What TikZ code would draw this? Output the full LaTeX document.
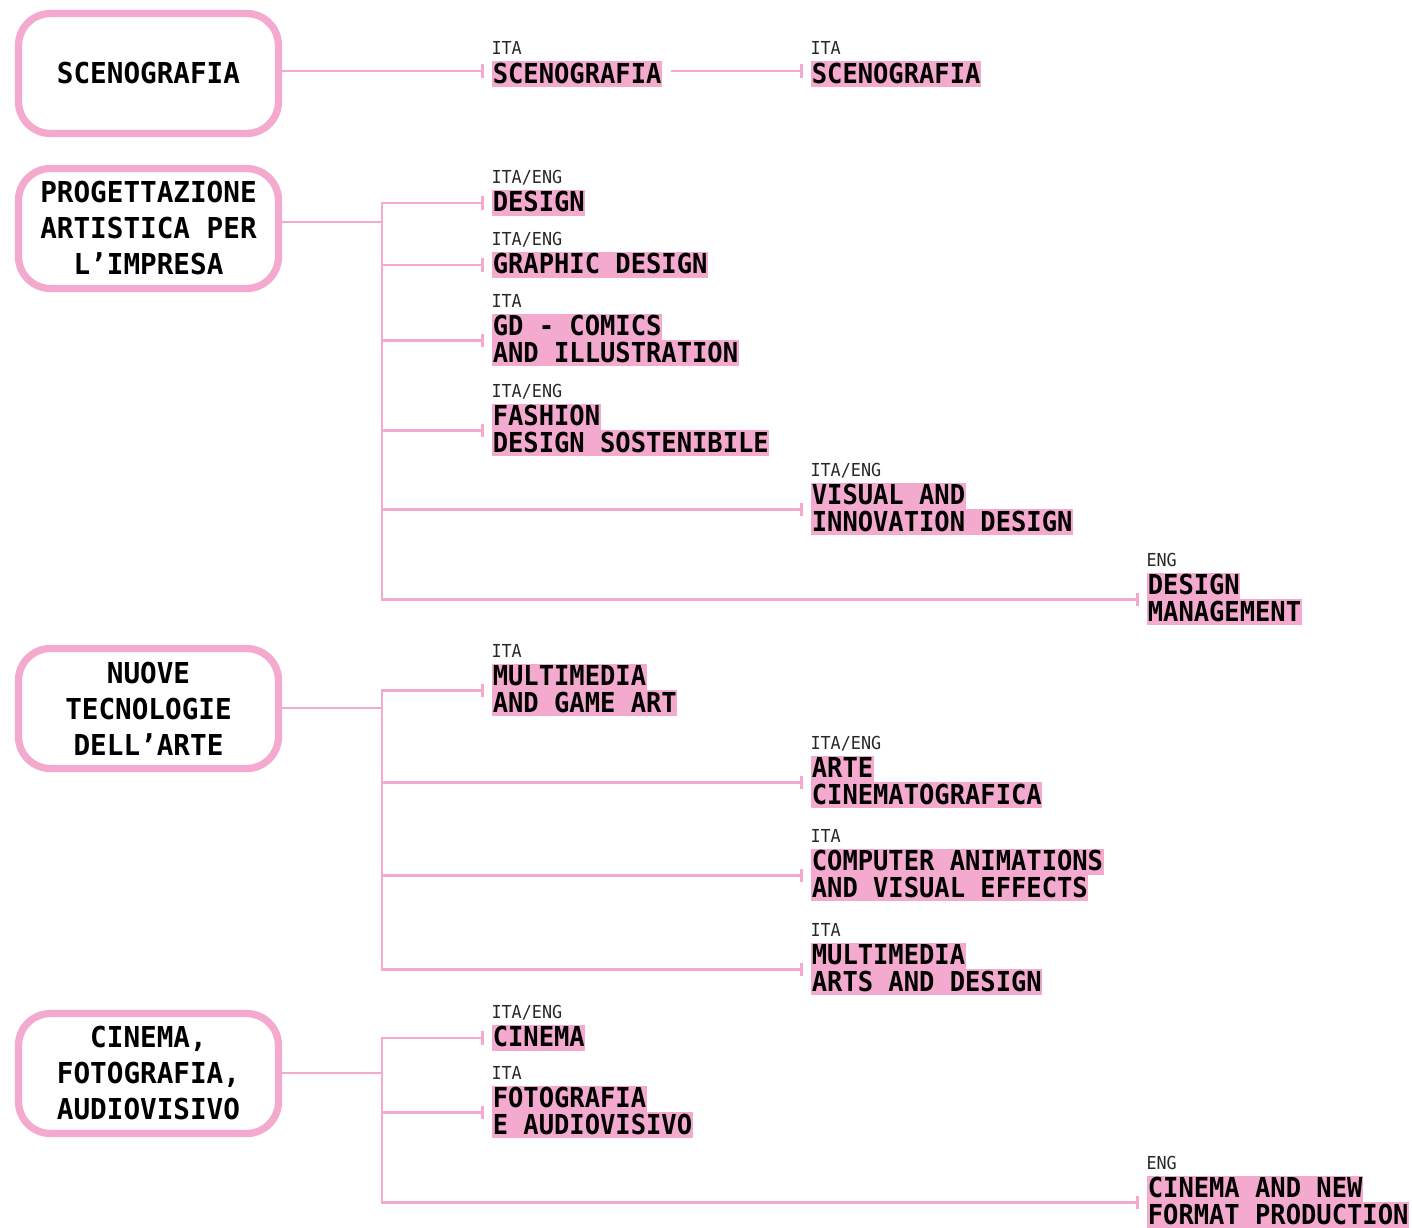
\documentclass[tikz,border=0pt]{standalone}
\usepackage{fontspec}
\usetikzlibrary{arrows.meta}

\newfontfamily\boxfont[FakeStretch=0.96]{DejaVu Sans Mono}
\newfontfamily\titfont[FakeStretch=0.927]{DejaVu Sans Mono}
\newfontfamily\langfont[FakeStretch=0.94]{DejaVu Sans Mono}
\definecolor{rosa}{RGB}{244,170,206}
\definecolor{grigio}{RGB}{40,40,40}

\setlength{\fboxsep}{0pt}
\newcommand{\hl}[1]{\hbox{\colorbox{rosa}{\rule[-3pt]{0pt}{19.5pt}\kern1pt#1\kern0.5pt}}\vskip0.5pt}
\newcommand{\hlbox}[1]{\vbox{\offinterlineskip#1}}

\tikzset{every picture/.style={line width=0.75pt}}
\tikzset{
  corso/.style={draw=rosa, line width=5.5pt, rounded corners=24pt, minimum width=195pt, minimum height=90pt, align=center, text=black, font=\boxfont\bfseries\fontsize{21.6}{27}\selectfont},
  indirizzo/.style={anchor=north west, inner sep=0pt, text=black, font=\titfont\bfseries\fontsize{20.6}{20}\selectfont},
  lingua/.style={anchor=base west, inner sep=0pt, text=grigio, font=\langfont\fontsize{13.4}{14}\selectfont},
  tronco/.style={draw=rosa, line width=2pt, line cap=rect},
  ramo/.style={draw=rosa, line width=2pt, -{Bar[width=10pt,line width=2pt]}, shorten >=5.5pt}
}

\begin{document}
\begin{tikzpicture}[x=0.75pt,y=0.75pt,yscale=-1,xscale=1]
\useasboundingbox (0,0) rectangle (1412,1227);

%Shape: Rounded Rect (courses)
\node[corso] (c1) at (148.5,73.5) {SCENOGRAFIA};
\node[corso] (c2) at (148.5,228.5) {PROGETTAZIONE\\ARTISTICA PER\\L’IMPRESA};
\node[corso] (c3) at (148.5,708.5) {NUOVE\\TECNOLOGIE\\DELL’ARTE};
\node[corso] (c4) at (148.5,1073.5) {CINEMA,\\FOTOGRAFIA,\\AUDIOVISIVO};

%titles
\node[indirizzo] (sc1) at (491,61) {\hlbox{\hl{SCENOGRAFIA}}};
\node[indirizzo] (sc2) at (810,61) {\hlbox{\hl{SCENOGRAFIA}}};
\node[indirizzo] (des) at (491,189) {\hlbox{\hl{DESIGN}}};
\node[indirizzo] (gd) at (491,251) {\hlbox{\hl{GRAPHIC DESIGN}}};
\node[indirizzo] (gdc) at (491,313) {\hlbox{\hl{GD - COMICS}\hl{AND ILLUSTRATION}}};
\node[indirizzo] (fds) at (491,403) {\hlbox{\hl{FASHION}\hl{DESIGN SOSTENIBILE}}};
\node[indirizzo] (vid) at (810,482) {\hlbox{\hl{VISUAL AND}\hl{INNOVATION DESIGN}}};
\node[indirizzo] (dm) at (1146,572) {\hlbox{\hl{DESIGN}\hl{MANAGEMENT}}};
\node[indirizzo] (mga) at (491,663) {\hlbox{\hl{MULTIMEDIA}\hl{AND GAME ART}}};
\node[indirizzo] (ac) at (810,755) {\hlbox{\hl{ARTE}\hl{CINEMATOGRAFICA}}};
\node[indirizzo] (cave) at (810,848) {\hlbox{\hl{COMPUTER ANIMATIONS}\hl{AND VISUAL EFFECTS}}};
\node[indirizzo] (mad) at (810,942) {\hlbox{\hl{MULTIMEDIA}\hl{ARTS AND DESIGN}}};
\node[indirizzo] (cin) at (491,1024) {\hlbox{\hl{CINEMA}}};
\node[indirizzo] (fa) at (491,1085) {\hlbox{\hl{FOTOGRAFIA}\hl{E AUDIOVISIVO}}};
\node[indirizzo] (cnf) at (1146,1175) {\hlbox{\hl{CINEMA AND NEW}\hl{FORMAT PRODUCTION}}};

%languages
\node[lingua] (l-sc1) at ([yshift=-4.5pt]sc1.north west) {ITA};
\node[lingua] (l-sc2) at ([yshift=-4.5pt]sc2.north west) {ITA};
\node[lingua] (l-des) at ([yshift=-4.5pt]des.north west) {ITA/ENG};
\node[lingua] (l-gd) at ([yshift=-4.5pt]gd.north west) {ITA/ENG};
\node[lingua] (l-gdc) at ([yshift=-4.5pt]gdc.north west) {ITA};
\node[lingua] (l-fds) at ([yshift=-4.5pt]fds.north west) {ITA/ENG};
\node[lingua] (l-vid) at ([yshift=-4.5pt]vid.north west) {ITA/ENG};
\node[lingua] (l-dm) at ([yshift=-4.5pt]dm.north west) {ENG};
\node[lingua] (l-mga) at ([yshift=-4.5pt]mga.north west) {ITA};
\node[lingua] (l-ac) at ([yshift=-4.5pt]ac.north west) {ITA/ENG};
\node[lingua] (l-cave) at ([yshift=-4.5pt]cave.north west) {ITA};
\node[lingua] (l-mad) at ([yshift=-4.5pt]mad.north west) {ITA};
\node[lingua] (l-cin) at ([yshift=-4.5pt]cin.north west) {ITA/ENG};
\node[lingua] (l-fa) at ([yshift=-4.5pt]fa.north west) {ITA};
\node[lingua] (l-cnf) at ([yshift=-4.5pt]cnf.north west) {ENG};

%Straight Lines
\coordinate (k1) at (282,71);
\draw[ramo] (c1.east |- k1) -- (k1 -| sc1.west);
\draw[ramo, shorten <=6pt] (sc1.east |- k1) -- (k1 -| sc2.west);

\coordinate (k2) at (382,222);
\draw[tronco] (c2.east |- k2) -- (k2);
\draw[tronco] (k2 |- des.west) -- (k2 |- dm.west);
\foreach \t in {des,gd,gdc,fds,vid,dm}
  \draw[ramo] (k2 |- \t.west) -- (\t.west);

\coordinate (k3) at (382,708);
\draw[tronco] (c3.east |- k3) -- (k3);
\draw[tronco] (k3 |- mga.west) -- (k3 |- mad.west);
\foreach \t in {mga,ac,cave,mad}
  \draw[ramo] (k3 |- \t.west) -- (\t.west);

\coordinate (k4) at (382,1073);
\draw[tronco] (c4.east |- k4) -- (k4);
\draw[tronco] (k4 |- cin.west) -- (k4 |- cnf.west);
\foreach \t in {cin,fa,cnf}
  \draw[ramo] (k4 |- \t.west) -- (\t.west);

\end{tikzpicture}
\end{document}
